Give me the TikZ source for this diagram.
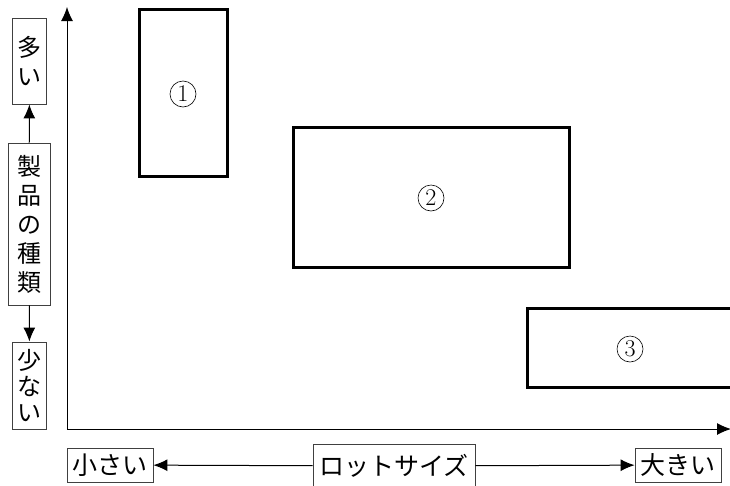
\documentclass[tikz,border=0pt]{standalone}
\usepackage{fontspec}
\newfontfamily\jpfont{Noto Sans CJK JP}
\usetikzlibrary{arrows.meta}

\tikzset{
  lbl/.style={draw=black!75, line width=0.9pt, inner sep=0pt, align=center,
    font=\jpfont\fontsize{24pt}{29pt}\selectfont},
  wide/.style={font=\jpfont\fontsize{25pt}{29pt}\selectfont},
  zone/.style={draw, line width=3pt},
  num/.style={circle, draw, line width=0.6pt, inner sep=0pt, minimum size=26pt,
    font=\fontsize{24pt}{24pt}\selectfont},
  tip/.style={-{Latex[length=14pt,width=12pt]}, line width=1pt},
}

\begin{document}
\begin{tikzpicture}[x=1pt,y=-1pt]
  \useasboundingbox (0,0) rectangle (730,485);
  \clip (0,0) rectangle (730,485);

  % axes
  \coordinate (o) at (67,429);
  \coordinate (ytop) at (67,7);
  \coordinate (xend) at (731,429);
  \draw[tip] (o) -- (ytop);
  \draw[tip] (o) -- (xend);

  % vertical labels
  \node[lbl, minimum width=34pt, minimum height=86pt] (many) at (29.5,61) {多\\い};
  \node[lbl, minimum width=42pt, minimum height=162pt] (kind) at (29,224) {製\\品\\の\\種\\類};
  \node[lbl, minimum width=34pt, minimum height=87pt,
    font=\jpfont\fontsize{24pt}{26pt}\selectfont] (few) at (29.5,385.5) {少\\な\\い};
  \draw[tip] (kind) -- (many);
  \draw[tip] (kind) -- (few);

  % horizontal labels
  \node[lbl, wide, minimum width=86pt, minimum height=34pt] (small) at (110,465) {小さい};
  \node[lbl, wide, minimum width=162pt, minimum height=44pt] (lot) at (394,466) {ロットサイズ};
  \node[lbl, wide, minimum width=86pt, minimum height=34pt] (large) at (678,465) {大きい};
  \draw[tip] (lot) -- (small);
  \draw[tip] (lot) -- (large);

  % zones
  \draw[zone] (139,9) rectangle (227,176);
  \node[num] (n1) at (183,94) {1};
  \draw[zone] (293,127) rectangle (569,267);
  \node[num] (n2) at (431,198) {2};
  \draw[zone] (740,308) -- (527,308) -- (527,387) -- (740,387);
  \node[num] (n3) at (630,349) {3};
\end{tikzpicture}
\end{document}
